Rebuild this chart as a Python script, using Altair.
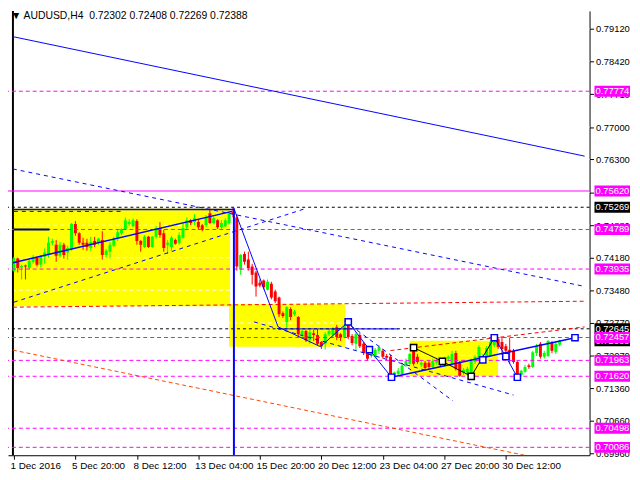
import altair as alt
import pandas as pd

TITLE_TEXT = "\u25bc AUDUSD,H4\u00a0\u00a00.72302 0.72408 0.72269 0.72388"

X_LABELS = ["1 Dec 2016", "5 Dec 20:00", "8 Dec 12:00", "13 Dec 04:00", "15 Dec 20:00",
            "20 Dec 12:00", "23 Dec 04:00", "27 Dec 20:00", "30 Dec 12:00"]
X_TICKS = [0, 16, 32, 48, 64, 80, 96, 112, 128]
Y_TICKS = [0.79120, 0.78420, 0.77710, 0.77000, 0.76300, 0.75590, 0.74880, 0.74180,
           0.73480, 0.72770, 0.72070, 0.71360, 0.70660, 0.69960]

OPEN = [0.7390,0.7416,0.7397,0.7401,0.7396,0.7409,0.7418,0.7403,0.7420,0.7424,
        0.7450,0.7446,0.7422,0.7446,0.7429,0.7435,0.7491,0.7471,0.7450,0.7450,
        0.7439,0.7454,0.7450,0.7456,0.7424,0.7431,0.7444,0.7459,0.7471,0.7480,
        0.7491,0.7486,0.7497,0.7454,0.7441,0.7463,0.7441,0.7463,0.7482,0.7471,
        0.7446,0.7441,0.7456,0.7450,0.7461,0.7484,0.7499,0.7495,0.7495,0.7488,
        0.7488,0.7514,0.7493,0.7499,0.7484,0.7486,0.7493,0.7518,0.7505,0.7392,
        0.7426,0.7414,0.7399,0.7386,0.7364,0.7369,0.7349,0.7362,0.7345,0.7332,
        0.7298,0.7279,0.7307,0.7296,0.7290,0.7251,0.7260,0.7240,0.7255,0.7251,
        0.7236,0.7232,0.7253,0.7251,0.7268,0.7253,0.7247,0.7275,0.7249,0.7232,
        0.7251,0.7232,0.7214,0.7206,0.7204,0.7217,0.7217,0.7206,0.7204,0.7161,
        0.7167,0.7167,0.7185,0.7189,0.7221,0.7204,0.7187,0.7191,0.7191,0.7182,
        0.7191,0.7195,0.7187,0.7200,0.7189,0.7212,0.7193,0.7170,0.7170,0.7167,
        0.7193,0.7200,0.7202,0.7206,0.7206,0.7229,0.7242,0.7236,0.7227,0.7219,
        0.7217,0.7193,0.7165,0.7172,0.7185,0.7182,0.7212,0.7232,0.7204,0.7206,
        0.7234,0.7214,0.72302]
HIGH = [0.7420,0.7418,0.7403,0.7403,0.7414,0.7424,0.7420,0.7424,0.7438,0.7463,
        0.7459,0.7456,0.7452,0.7450,0.7444,0.7493,0.7497,0.7473,0.7461,0.7459,
        0.7463,0.7463,0.7461,0.7475,0.7437,0.7452,0.7463,0.7478,0.7482,0.7505,
        0.7501,0.7503,0.7501,0.7456,0.7467,0.7465,0.7465,0.7486,0.7495,0.7478,
        0.7456,0.7465,0.7459,0.7473,0.7493,0.7505,0.7501,0.7512,0.7501,0.7491,
        0.7510,0.7524,0.7507,0.7501,0.7499,0.7503,0.7518,0.7527,0.7512,0.7426,
        0.7431,0.7431,0.7405,0.7390,0.7371,0.7371,0.7371,0.7366,0.7349,0.7334,
        0.7302,0.7313,0.7311,0.7305,0.7292,0.7262,0.7262,0.7262,0.7262,0.7264,
        0.7238,0.7257,0.7264,0.7268,0.7273,0.7255,0.7275,0.7279,0.7253,0.7257,
        0.7255,0.7236,0.7219,0.7214,0.7223,0.7229,0.7221,0.7210,0.7208,0.7172,
        0.7180,0.7189,0.7200,0.7212,0.7223,0.7210,0.7195,0.7195,0.7195,0.7200,
        0.7202,0.7200,0.7204,0.7208,0.7217,0.7217,0.7195,0.7180,0.7182,0.7200,
        0.7208,0.7229,0.7210,0.7227,0.7240,0.7245,0.7245,0.7247,0.7232,0.7245,
        0.7221,0.7195,0.7176,0.7187,0.7189,0.7217,0.7232,0.7236,0.7217,0.7240,
        0.7238,0.7236,0.72408]
LOW = [0.7388,0.7386,0.7371,0.7371,0.7392,0.7405,0.7399,0.7397,0.7405,0.7418,
       0.7444,0.7409,0.7418,0.7416,0.7414,0.7433,0.7465,0.7446,0.7435,0.7433,
       0.7433,0.7441,0.7446,0.7414,0.7418,0.7416,0.7441,0.7454,0.7467,0.7478,
       0.7486,0.7484,0.7446,0.7431,0.7439,0.7439,0.7439,0.7459,0.7461,0.7431,
       0.7426,0.7433,0.7446,0.7446,0.7459,0.7480,0.7488,0.7488,0.7478,0.7475,
       0.7484,0.7491,0.7490,0.7480,0.7480,0.7484,0.7490,0.7505,0.7390,0.7381,
       0.7403,0.7390,0.7360,0.7334,0.7354,0.7349,0.7347,0.7328,0.7320,0.7290,
       0.7288,0.7266,0.7283,0.7292,0.7247,0.7245,0.7236,0.7232,0.7238,0.7229,
       0.7221,0.7220,0.7249,0.7247,0.7240,0.7238,0.7245,0.7242,0.7229,0.7217,
       0.7223,0.7208,0.7195,0.7202,0.7200,0.7210,0.7200,0.7200,0.7159,0.7159,
       0.7163,0.7165,0.7182,0.7187,0.7185,0.7189,0.7182,0.7176,0.7178,0.7178,
       0.7187,0.7182,0.7182,0.7197,0.7185,0.7174,0.7161,0.7165,0.7165,0.7159,
       0.7189,0.7195,0.7200,0.7202,0.7204,0.7225,0.7221,0.7208,0.7212,0.7189,
       0.7189,0.7159,0.7161,0.7170,0.7178,0.7180,0.7206,0.7200,0.7200,0.7204,
       0.7212,0.7210,0.72269]
CLOSE = [0.7416,0.7396,0.7400,0.7399,0.7411,0.7418,0.7403,0.7420,0.7429,0.7450,
         0.7454,0.7422,0.7446,0.7424,0.7439,0.7491,0.7471,0.7450,0.7446,0.7441,
         0.7452,0.7446,0.7459,0.7424,0.7433,0.7446,0.7459,0.7473,0.7480,0.7499,
         0.7495,0.7499,0.7454,0.7446,0.7463,0.7441,0.7463,0.7482,0.7467,0.7439,
         0.7450,0.7461,0.7448,0.7467,0.7482,0.7499,0.7493,0.7503,0.7484,0.7478,
         0.7505,0.7493,0.7503,0.7484,0.7493,0.7499,0.7514,0.7512,0.7399,0.7424,
         0.7409,0.7396,0.7381,0.7356,0.7358,0.7354,0.7366,0.7332,0.7324,0.7296,
         0.7292,0.7311,0.7290,0.7302,0.7253,0.7260,0.7240,0.7257,0.7251,0.7232,
         0.7227,0.7253,0.7260,0.7264,0.7247,0.7245,0.7270,0.7247,0.7234,0.7253,
         0.7227,0.7212,0.7200,0.7210,0.7219,0.7225,0.7204,0.7202,0.7161,0.7170,
         0.7174,0.7185,0.7195,0.7210,0.7189,0.7193,0.7191,0.7180,0.7182,0.7195,
         0.7197,0.7187,0.7200,0.7204,0.7210,0.7178,0.7163,0.7176,0.7178,0.7195,
         0.7204,0.7225,0.7206,0.7223,0.7236,0.7240,0.7225,0.7221,0.7217,0.7214,
         0.7193,0.7163,0.7174,0.7182,0.7182,0.7214,0.7227,0.7204,0.7212,0.7238,
         0.7217,0.7232,0.72388]

# horizontal levels
MAGENTA_DASHED = [0.77774, 0.74789, 0.73935, 0.72457, 0.71963, 0.71620, 0.70498, 0.70086]
MAGENTA_SOLID = [0.75620]
BLACK_DASHED = [0.75269, 0.72645]

# right-axis price boxes (drawn in this order)
BOX_BLACK = [0.72388, 0.75269, 0.72645]
BOX_MAGENTA = [0.77774, 0.75620, 0.74789, 0.73935, 0.72457, 0.71963, 0.71620, 0.70498, 0.70086]

# yellow rectangles: (bar0, bar1, price_top, price_bottom)
RECTS = [(-0.25, 56.25, 0.75244, 0.73134),
         (56.0, 86.25, 0.73176, 0.72260),
         (103.0, 126.0, 0.72388, 0.71620)]

# trend lines as (bar index, price) points
BLUE_THIN = [
    [(-0.25, 0.78952), (148.5, 0.76373)],
    [(57.25, 0.75244), (68.75, 0.72686), (79.75, 0.72260), (87.0, 0.72793),
     (92.5, 0.72196), (98.25, 0.71599)],
    [(68.75, 0.72643), (100.0, 0.72643)],
    [(125.0, 0.72452), (128.0, 0.72047), (131.0, 0.71599)],
]
BLUE_THICK = [
    [(-0.25, 0.74071), (56.75, 0.75180)],
    [(0.0, 0.75222), (57.5, 0.75222)],
    [(98.25, 0.71599), (146.0, 0.72452)],
]
BLUE_DASHED = [
    [(-0.25, 0.76096), (148.5, 0.73560)],
    [(0.0, 0.73219), (76.0, 0.75244)],
    [(62.5, 0.72793), (130.0, 0.71215)],
    [(86.0, 0.72814), (114.25, 0.71088)],
    [(0.0, 0.75180), (28.5, 0.75180)],
]
NAVY_LINES = [[(0.0, 0.74789), (9.25, 0.74789)]]
BLACK_LINES = [[(104.0, 0.72239), (111.5, 0.71940), (119.0, 0.71620), (125.0, 0.72452)]]
RED_DASHED = [
    [(-0.25, 0.73112), (148.5, 0.73240)],
    [(98.0, 0.72175), (148.5, 0.72686)],
]
ORANGE_DASHED = [[(-0.25, 0.72185), (148.5, 0.69649)]]
VLINE = [(57.25, 0.75244)]

BLUE_SQUARES = [(87.0, 0.72793), (92.5, 0.72196), (98.25, 0.71599), (122.0, 0.71975),
                (125.0, 0.72452), (128.0, 0.72047), (131.0, 0.71599), (146.0, 0.72452)]
BLACK_SQUARES = [(104.0, 0.72239), (111.5, 0.71940), (119.0, 0.71620)]

X_DOMAIN = [-0.25, 148.5]
Y_DOMAIN = [0.69915, 0.79507]
W, H = 589, 450
FONT = "Liberation Sans"
GREEN, RED, BLUE, MAGENTA = "#00ff00", "#ff0000", "#0000ff", "#ff00ff"

XS = alt.Scale(domain=X_DOMAIN, nice=False, zero=False)
YS = alt.Scale(domain=Y_DOMAIN, nice=False, zero=False)
label_expr = "[" + ",".join("'%s'" % s for s in X_LABELS) + "][round(datum.value / 16)]"
AX_X = alt.Axis(values=X_TICKS, labelExpr=label_expr, orient="bottom", grid=False,
                tickSize=4, tickColor="black", domainColor="black", labelAlign="left",
                labelOffset=-4, labelPadding=1, labelFontSize=10, labelFont=FONT,
                labelColor="black", labelOverlap=False, labelFlush=False, labelBound=False)
AX_Y = alt.Axis(values=Y_TICKS, format=".5f", orient="right", grid=False, tickSize=4,
                tickColor="black", domainColor="black", labelPadding=2, labelFontSize=9.5,
                labelFont=FONT, labelColor="black", labelOverlap=False, labelFlush=False,
                labelBound=False)


def xq(f):
    return alt.X(f, type="quantitative", scale=XS, axis=AX_X, title=None)


def yq(f):
    return alt.Y(f, type="quantitative", scale=YS, axis=AX_Y, title=None)


def pts_df(lines):
    rows = []
    for k, pts in enumerate(lines):
        for j, (xi, pv) in enumerate(pts):
            rows.append({"seg": k, "ord": j, "i": xi, "p": pv})
    return pd.DataFrame(rows)


def line_layer(lines, color, width=1.0, dash=None):
    kw = dict(color=color, strokeWidth=width, clip=True)
    if dash:
        kw["strokeDash"] = dash
    return alt.Chart(pts_df(lines)).mark_line(**kw).encode(
        x=xq("i"), y=yq("p"), detail="seg:N", order="ord:Q")


def level_layer(levels, color, dash=None, width=1.0):
    kw = dict(color=color, strokeWidth=width)
    if dash:
        kw["strokeDash"] = dash
    return alt.Chart(pd.DataFrame({"p": levels})).mark_rule(**kw).encode(y=yq("p"))


cdf = pd.DataFrame({"i": list(range(len(OPEN))), "open": OPEN, "high": HIGH,
                    "low": LOW, "close": CLOSE})
cdf["dir"] = ["up" if c >= o else "down" for o, c in zip(OPEN, CLOSE)]
dir_color = alt.Color("dir:N", scale=alt.Scale(domain=["up", "down"], range=[GREEN, RED]),
                      legend=None)

rect_df = pd.DataFrame(RECTS, columns=["i0", "i1", "p0", "p1"])
rects = alt.Chart(rect_df).mark_rect(color="#ffff00", clip=True).encode(
    x=xq("i0"), x2="i1", y=yq("p0"), y2="p1")

grid = alt.Chart(pd.DataFrame({"p": Y_TICKS})).mark_rule(
    color="white", strokeDash=[4, 3]).encode(y=yq("p"))

frame = alt.Chart(pd.DataFrame({"i": [X_DOMAIN[0]]})).mark_rule(
    color="black", strokeWidth=2, clip=False).encode(x=xq("i"))

wicks = alt.Chart(cdf).mark_rule(strokeWidth=1, clip=True).encode(
    x=xq("i"), y=yq("low"), y2="high", color=dir_color)
bodies = alt.Chart(cdf).mark_bar(size=3, clip=True).encode(
    x=xq("i"), y=yq("open"), y2="close", color=dir_color)

vdf = pd.DataFrame(VLINE, columns=["i", "p"])
vline = alt.Chart(vdf).mark_rule(color=BLUE, strokeWidth=2, clip=True).encode(
    x=xq("i"), y=yq("p"), y2=alt.Y2(datum=Y_DOMAIN[0]))

sq_blue = alt.Chart(pd.DataFrame(BLUE_SQUARES, columns=["i", "p"])).mark_point(
    shape="square", size=40, filled=True, fill="white", stroke=BLUE, strokeWidth=1.5,
    opacity=1, clip=True).encode(x=xq("i"), y=yq("p"))
sq_black = alt.Chart(pd.DataFrame(BLACK_SQUARES, columns=["i", "p"])).mark_point(
    shape="square", size=40, filled=True, fill="white", stroke="black", strokeWidth=1.5,
    opacity=1, clip=True).encode(x=xq("i"), y=yq("p"))

BOX_PATH = "M-1,-0.3056H1V0.3056H-1Z"


def box_layers(levels, bg):
    d = pd.DataFrame({"p": levels, "txt": ["%.5f" % v for v in levels]})
    box = alt.Chart(d).mark_point(shape=BOX_PATH, size=1296, filled=True, fill=bg,
                                  strokeWidth=0, opacity=1, clip=False).encode(
        x=alt.value(612), y=yq("p"))
    txt = alt.Chart(d).mark_text(align="left", baseline="middle", color="white",
                                 fontSize=9.5, font=FONT, clip=False).encode(
        x=alt.value(595), y=yq("p"), text="txt:N")
    return [box, txt]


title = alt.Chart(pd.DataFrame({"t": [TITLE_TEXT]})).mark_text(
    align="left", baseline="top", fontSize=10.5, font=FONT, color="black").encode(
    x=alt.value(3), y=alt.value(0), text="t:N")

layers = [
    rects, grid, frame, wicks, bodies,
    level_layer(MAGENTA_DASHED, MAGENTA, [4, 3]),
    level_layer(MAGENTA_SOLID, MAGENTA),
    level_layer(BLACK_DASHED, "black", [3, 3]),
    line_layer(RED_DASHED, RED, 1, [4, 3]),
    line_layer(ORANGE_DASHED, "#ff4500", 1, [4, 3]),
    line_layer(BLUE_DASHED, BLUE, 1, [4, 4]),
    line_layer(BLUE_THIN, BLUE, 1),
    line_layer(BLUE_THICK, BLUE, 1.5),
    line_layer(NAVY_LINES, "#000080", 2),
    line_layer(BLACK_LINES, "black", 1),
    vline, sq_blue, sq_black,
]
layers += box_layers(BOX_BLACK, "black")
layers += box_layers(BOX_MAGENTA, MAGENTA)
layers.append(title)

chart = alt.layer(*layers).properties(
    width=W, height=H,
    padding={"left": 0, "top": 0, "right": 43, "bottom": 16},
    autosize=alt.AutoSizeParams(type="none"),
).configure_view(stroke=None)

chart.save("out.html", embed_options={"renderer": "svg", "actions": False})
